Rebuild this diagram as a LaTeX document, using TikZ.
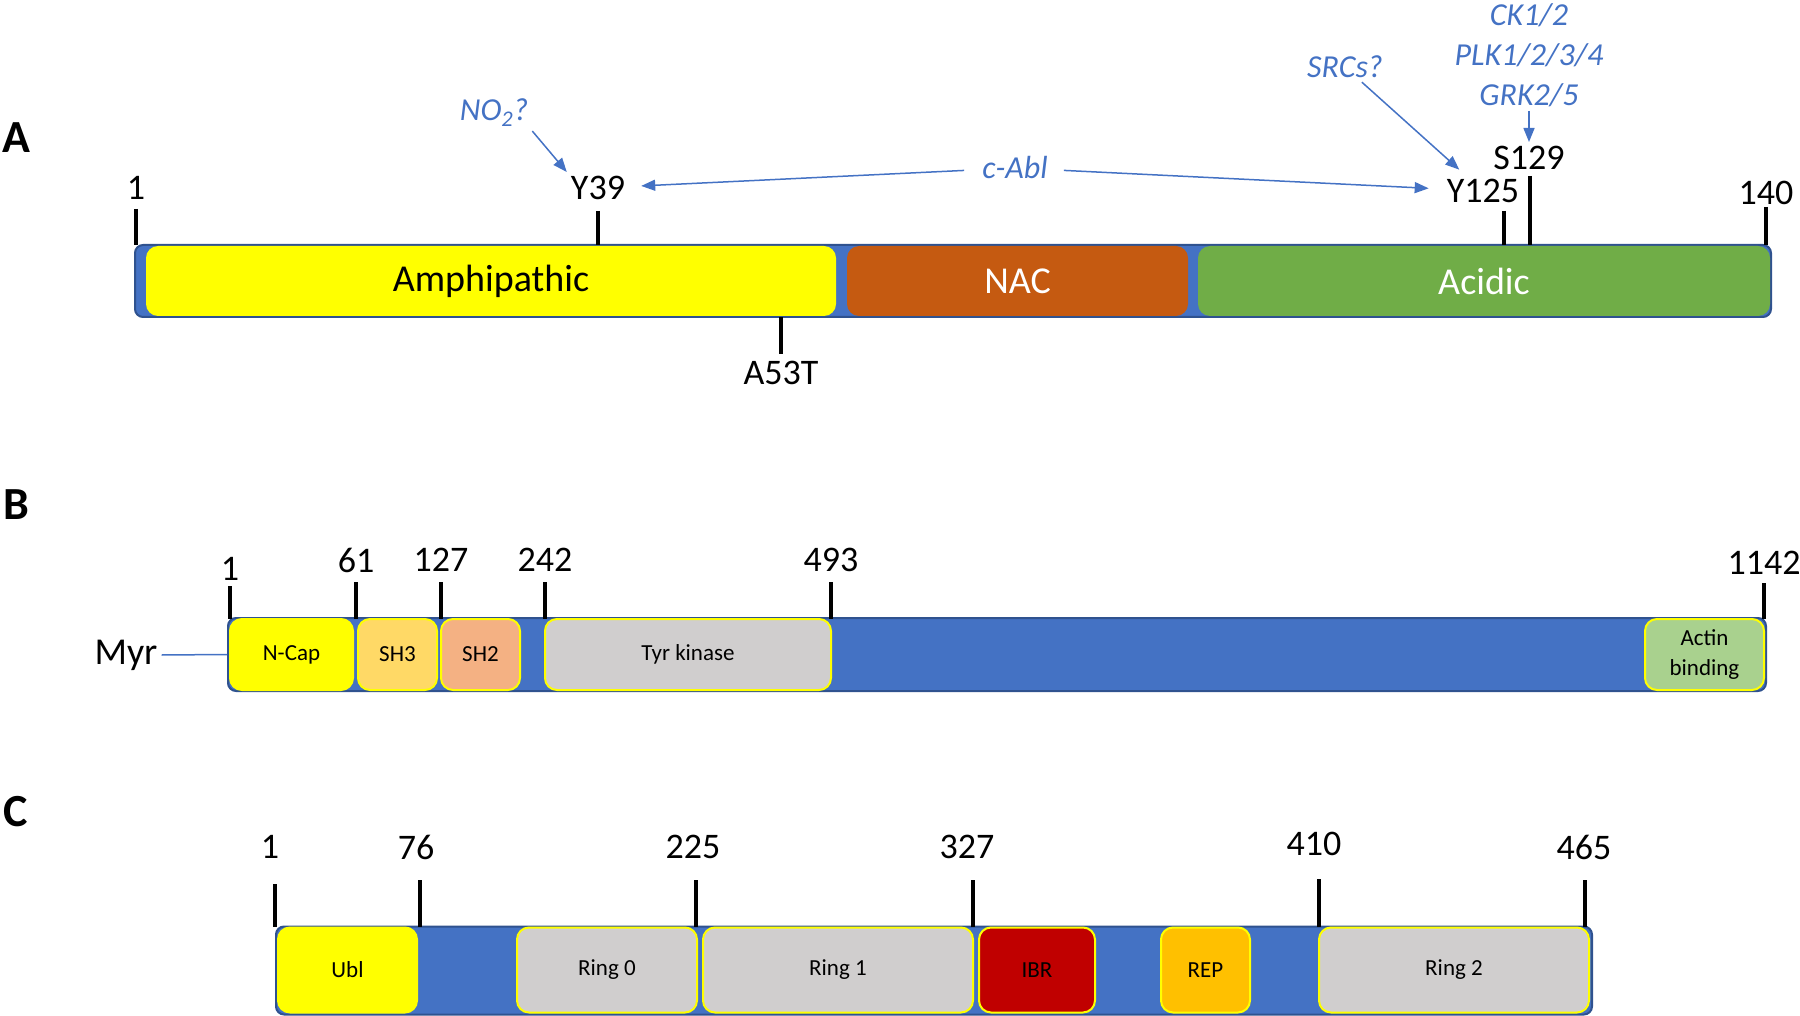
\documentclass[tikz,border=0pt]{standalone}
\usepackage{fontspec}
\setmainfont{Carlito}
\usetikzlibrary{arrows.meta,positioning}

\definecolor{barblue}{HTML}{4472C4}
\definecolor{barline}{HTML}{2F528F}
\definecolor{ampyellow}{HTML}{FFFF00}
\definecolor{nacorange}{HTML}{C55A11}
\definecolor{acidgreen}{HTML}{70AD47}
\definecolor{sh3col}{HTML}{FFD966}
\definecolor{sh2col}{HTML}{F4B183}
\definecolor{greycol}{HTML}{D0CECE}
\definecolor{actincol}{HTML}{A9D18E}
\definecolor{ibrcol}{HTML}{C00000}
\definecolor{repcol}{HTML}{FFC000}

\begin{document}
\begin{tikzpicture}[x=1pt, y=-1pt,
    every node/.style={inner sep=4pt},
    bar/.style={draw=barline, line width=2pt, fill=barblue, rounded corners=8pt, inner sep=0pt},
    dom/.style={rounded corners=12pt, inner sep=0pt, font=\fontsize{23}{30}\selectfont},
    domline/.style={dom, draw=ampyellow, line width=2pt},
    big/.style={font=\fontsize{38}{42}\selectfont},
    num/.style={font=\fontsize{36}{40}\selectfont},
    kin/.style={text=barblue, font=\fontsize{32}{40}\selectfont\itshape},
    kinarrow/.style={draw=barblue, line width=1.5pt, -{Triangle[length=14pt,width=11pt]}},
    myrline/.style={draw=barblue, line width=1.5pt},
    tick/.style={line width=3.5pt},
    panel/.style={font=\fontsize{46}{50}\selectfont\bfseries}]
    \useasboundingbox (0,0) rectangle (1800,1016);

    % A: alpha-synuclein
    \node[panel] (labA) at (16,138) {A};
    \node[bar, minimum width=1636pt, minimum height=72pt] (barA) at (953,281) {};
    \node[dom, big, fill=ampyellow, minimum width=690pt, minimum height=70pt] (amph) at (491,281) {Amphipathic};
    \node[dom, big, fill=nacorange, text=white, minimum width=341pt, minimum height=70pt] (nac) at (1017.5,281) {NAC};
    \node[dom, big, fill=acidgreen, text=white, minimum width=572pt, minimum height=70pt] (acid) at (1484,281) {Acidic};

    \draw[tick] (136,209) -- (136,245);
    \node[num] (a1) at (136,188) {1};
    \draw[tick] (598,211) -- (598,245);
    \node[num] (y39) at (598,188) {Y39};
    \draw[tick] (781,317) -- (781,354);
    \node[num] (a53t) at (781,373) {A53T};
    \draw[tick] (1504,211) -- (1504,245);
    \node[num] (y125) at (1483,191) {Y125};
    \draw[tick] (1530,176) -- (1530,245);
    \node[num] (s129) at (1529,158) {S129};
    \draw[tick] (1766,207) -- (1766,245);
    \node[num] (a140) at (1766,193) {140};

    \node[kin] (no2) at (494,113) {NO\textsubscript{2}?};
    \node[kin] (srcs) at (1345,67) {SRCs?};
    \node[kin] (cabl) at (1015,168) {c-Abl};
    \node[kin, align=center] (kinases) at (1529,55) {CK1/2\\PLK1/2/3/4\\GRK2/5};

    \draw[kinarrow] (no2.south east) -- (y39.north west);
    \draw[kinarrow, shorten >=8pt] (srcs) -- (y125);
    \draw[kinarrow, shorten <=14pt, shorten >=12pt] (cabl) -- (y39);
    \draw[kinarrow, shorten <=12pt, shorten >=14pt] (cabl) -- (y125);
    \draw[kinarrow] (kinases) -- (s129);

    % B: c-Abl
    \node[panel] (labB) at (16,505) {B};
    \node[bar, minimum width=1538pt, minimum height=73pt] (barB) at (997,654.5) {};
    \node[domline, fill=ampyellow, minimum width=123pt, minimum height=71pt] (ncap) at (291.5,654.5) {N-Cap};
    \node[domline, fill=sh3col, minimum width=79pt, minimum height=71pt] (sh3) at (397.5,654.5) {SH3};
    \node[domline, fill=sh2col, minimum width=79pt, minimum height=71pt] (sh2) at (480.5,654.5) {SH2};
    \node[domline, fill=greycol, minimum width=286pt, minimum height=71pt] (tyrk) at (688,654.5) {Tyr kinase};
    \node[domline, fill=actincol, minimum width=119pt, minimum height=71pt, align=center] (actin) at (1704.5,654.5) {Actin\\binding};

    \foreach \x/\top/\ly/\num in {230/586/569/1, 356/582/560/61, 441/582/560/127, 545/582/560/242, 831/582/560/493, 1764/583/563/1142} {
        \draw[tick] (\x,\top) -- (\x,619);
        \node[num] (b\num) at (\x,\ly) {\num};
    }

    \node[big] (myr) at (126,655) {Myr};
    \draw[myrline] (myr.east) -- (barB.west);

    % C: Parkin
    \node[panel] (labC) at (16,812) {C};
    \node[bar, minimum width=1316pt, minimum height=88pt] (barC) at (934,970.5) {};
    \node[domline, fill=ampyellow, minimum width=139pt, minimum height=85pt] (ubl) at (347.5,970) {Ubl};
    \node[domline, fill=greycol, minimum width=180pt, minimum height=85pt] (ring0) at (607,970) {Ring 0};
    \node[domline, fill=greycol, minimum width=270pt, minimum height=85pt] (ring1) at (838,970) {Ring 1};
    \node[domline, fill=ibrcol, minimum width=116pt, minimum height=85pt] (ibr) at (1037,970) {IBR};
    \node[domline, fill=repcol, minimum width=89pt, minimum height=85pt] (rep) at (1205.5,970) {REP};
    \node[domline, fill=greycol, minimum width=270pt, minimum height=85pt] (ring2) at (1454,970) {Ring 2};

    \foreach \x/\top/\lx/\ly/\num in {275/884/270/847/1, 420/880/416/847/76, 696/880/693/847/225, 973/880/967/847/327, 1319/879/1314/844/410, 1585/880/1584/847/465} {
        \draw[tick] (\x,\top) -- (\x,927);
        \node[num] (c\num) at (\lx,\ly) {\num};
    }
\end{tikzpicture}
\end{document}
